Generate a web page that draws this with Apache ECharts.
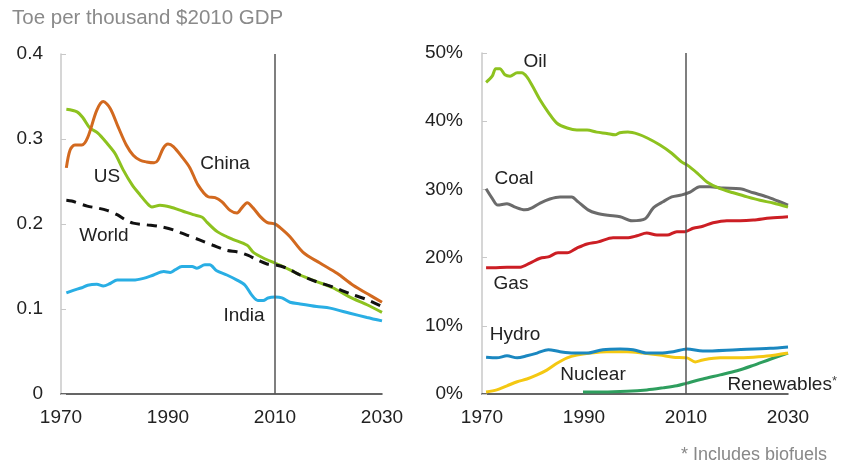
<!DOCTYPE html>
<html><head><meta charset="utf-8">
<script src="https://cdn.jsdelivr.net/npm/echarts@6/dist/echarts.min.js"></script>
<style>html,body{margin:0;padding:0;background:#fff}#c{width:845px;height:464px}</style>
</head><body><div id="c"></div>
<script>
// ---------- Data ----------
const xTicks = [1970, 1990, 2010, 2030];
const leftYTicks = [0, 0.1, 0.2, 0.3, 0.4];
const rightYTicks = [0, 10, 20, 30, 40, 50];

const chinaYears = [1971,1971.7,1972.6,1973.9,1975,1976.7,1977.9,1979.2,1980.7,1982.2,1983.5,1984.8,1986,1987.4,1988.1,1989.1,1990,1991,1992.6,1994.1,1995.6,1997.5,1998.8,2000.1,2001.6,2002.9,2003.8,2004.8,2005.9,2007.2,2008.5,2010,2010.9,2012.8,2015.2,2018.4,2021.6,2024.6,2027.8,2030];
const chinaVals  = [0.266,0.287,0.293,0.293,0.302,0.334,0.344,0.336,0.314,0.293,0.281,0.275,0.273,0.272,0.275,0.289,0.294,0.291,0.279,0.266,0.246,0.232,0.231,0.226,0.216,0.213,0.219,0.225,0.219,0.209,0.202,0.200,0.196,0.185,0.167,0.154,0.142,0.128,0.116,0.108];

const usYears = [1971,1973,1974.1,1975.4,1976.9,1978.6,1980.1,1981.6,1983.3,1984.8,1986,1987,1988.5,1990.4,1992.8,1994.7,1996.4,1997.3,1999.2,2001,2002.1,2004.8,2005.9,2007.8,2010,2011.5,2014.7,2017.9,2020.8,2024,2027.2,2030];
const usVals  = [0.335,0.332,0.325,0.313,0.307,0.295,0.283,0.264,0.246,0.234,0.225,0.220,0.222,0.220,0.215,0.211,0.208,0.202,0.191,0.185,0.182,0.175,0.167,0.160,0.154,0.150,0.140,0.132,0.125,0.114,0.105,0.096];

const worldYears = [1971,1972,1974.9,1976.7,1978.6,1980.5,1982,1983.5,1986,1988.5,1991,1993.5,1996,1998.4,2001,2003.1,2005,2006.6,2008.5,2010,2012.2,2014.7,2017.8,2020.8,2024,2027.2,2030];
const worldVals  = [0.228,0.227,0.221,0.219,0.216,0.211,0.205,0.201,0.199,0.197,0.193,0.187,0.181,0.175,0.169,0.167,0.163,0.158,0.153,0.152,0.148,0.140,0.132,0.126,0.118,0.111,0.103];

const indiaYears = [1971,1972.3,1973.9,1975,1976.7,1977.9,1979.2,1980.5,1982.3,1983.5,1985.4,1987.3,1989.2,1990.4,1991.3,1992.6,1994.5,1995.4,1996.9,1997.8,1999.1,2001,2002.9,2004.4,2005.7,2006.8,2007.8,2008.7,2010,2011.3,2012.8,2014.7,2017.8,2020.3,2024,2027.2,2030];
const indiaVals  = [0.119,0.122,0.125,0.128,0.129,0.127,0.130,0.134,0.134,0.134,0.136,0.140,0.144,0.143,0.146,0.150,0.150,0.148,0.152,0.152,0.145,0.140,0.134,0.128,0.116,0.110,0.110,0.113,0.114,0.113,0.108,0.106,0.103,0.101,0.095,0.090,0.086];

const oilYears = [1970.8,1972,1972.7,1973.5,1974.5,1975.5,1976.9,1977.8,1978.8,1980,1981.4,1983,1984.7,1986.7,1988.6,1990.6,1992.5,1994.5,1996.1,1997,1998.6,2000.6,2002.5,2004.9,2007.2,2009.2,2010.2,2012.2,2014.1,2016.7,2019.3,2022,2024.5,2027.1,2030];
const oilVals  = [45.7,46.6,47.7,47.7,46.8,46.6,47.1,47.1,46.5,45.0,43.1,41.3,39.7,39.0,38.7,38.7,38.4,38.2,38.0,38.3,38.4,38.1,37.5,36.5,35.3,34.0,33.6,32.4,31.1,30.1,29.5,28.9,28.4,28.0,27.4];

const coalYears = [1970.8,1972,1973.1,1974.9,1976.5,1978.4,1979.8,1981.4,1983.3,1985.3,1987.6,1988.8,1990.8,1992.5,1994.7,1997.1,1999.4,2002,2003.6,2005.5,2007.2,2009.2,2010.8,2012.7,2014.7,2017.3,2020.6,2023.2,2025.9,2028,2030];
const coalVals  = [30.1,28.7,27.7,27.9,27.4,27.0,27.3,28.0,28.6,28.9,28.9,28.2,27.0,26.5,26.2,26.0,25.4,25.7,27.3,28.2,28.9,29.2,29.6,30.4,30.4,30.2,30.1,29.5,28.9,28.3,27.7];

const gasYears = [1970.8,1972.2,1974.9,1977.5,1979.4,1981.4,1983,1984.9,1986.7,1988.6,1990.6,1992.8,1995.7,1998.4,2000.4,2002.3,2004.3,2006.3,2008.2,2009.8,2011.4,2013.3,2015.3,2018,2020.6,2023.2,2026.5,2030];
const gasVals  = [18.5,18.5,18.6,18.6,19.2,19.9,20.1,20.7,20.7,21.4,22.0,22.3,22.9,22.9,23.2,23.6,23.3,23.3,23.8,23.8,24.3,24.6,25.1,25.4,25.4,25.5,25.8,26.0];

const hydroYears = [1970.8,1972.9,1974.9,1976.9,1978.8,1980.8,1983,1985.3,1987.9,1990.6,1993.7,1997.1,1999.6,2002.4,2004.9,2007.5,2010.2,2013.3,2020,2026.5,2030];
const hydroVals  = [5.4,5.3,5.6,5.3,5.6,6.0,6.5,6.2,6.0,6.0,6.5,6.6,6.5,6.0,6.0,6.2,6.6,6.3,6.5,6.7,6.9];

const nuclearYears = [1970.8,1972.9,1974.9,1976.9,1978.8,1980.8,1982.7,1984.7,1986.7,1988.6,1991.2,1994.5,1998.4,2001.6,2004.9,2007.5,2010.2,2011.8,2013.3,2016.7,2020,2023.2,2026.5,2030];
const nuclearVals  = [0.3,0.6,1.2,1.8,2.2,2.8,3.5,4.5,5.3,5.7,6.0,6.2,6.2,6.0,5.7,5.4,5.3,4.7,5.0,5.3,5.3,5.4,5.6,6.0];

const renewYears = [1989.8,1993.7,1998.4,2002.3,2005.5,2008.2,2010.2,2013.3,2016.7,2020,2023.2,2026.5,2030];
const renewVals  = [0.3,0.3,0.4,0.6,0.9,1.2,1.6,2.2,2.8,3.4,4.2,5.1,6.0];

// ---------- Chart ----------
const zip = (xs, ys) => xs.map((x, i) => [x, ys[i]]);
const FONT = 'Liberation Sans, Arial, sans-serif';
const chart = echarts.init(document.getElementById('c'), null, {renderer: 'canvas'});

function line(name, xi, yi, xs, ys, color, extra) {
  return Object.assign({
    name, type: 'line', xAxisIndex: xi, yAxisIndex: yi,
    data: zip(xs, ys), showSymbol: false, smooth: 0.3,
    lineStyle: {color, width: 3}, z: 3, silent: true
  }, extra || {});
}

function xAxis(gi) {
  return {
    type: 'value', gridIndex: gi, min: xTicks[0], max: xTicks[xTicks.length - 1], interval: 20,
    axisLine: {show: true, lineStyle: {color: '#333', width: 1.5}},
    axisTick: {show: false}, splitLine: {show: false},
    axisLabel: {color: '#222', fontSize: 19, fontFamily: FONT, margin: 14, formatter: v => String(v)}
  };
}

const vline = {
  silent: true, symbol: 'none', label: {show: false},
  lineStyle: {color: '#555', width: 1.5, type: 'solid'},
  data: [{xAxis: 2010}]
};

chart.setOption({
  animation: false,
  backgroundColor: '#fff',
  grid: [
    {left: 61, top: 54, width: 321, height: 340},
    {left: 482, top: 53, width: 306, height: 341}
  ],
  xAxis: [xAxis(0), xAxis(1)],
  yAxis: [
    {type: 'value', gridIndex: 0, min: leftYTicks[0], max: leftYTicks[leftYTicks.length - 1], interval: 0.1,
     axisLine: {show: true, lineStyle: {color: '#c8c8c8', width: 1.5}},
     axisTick: {show: true, inside: true, length: 5, lineStyle: {color: '#c8c8c8'}},
     splitLine: {show: false},
     axisLabel: {color: '#222', fontSize: 19, fontFamily: FONT, margin: 18,
                 formatter: v => v === 0 ? '0' : v.toFixed(1)}},
    {type: 'value', gridIndex: 1, min: rightYTicks[0], max: rightYTicks[rightYTicks.length - 1], interval: 10,
     axisLine: {show: true, lineStyle: {color: '#c8c8c8', width: 1.5}},
     axisTick: {show: true, inside: true, length: 5, lineStyle: {color: '#c8c8c8'}},
     splitLine: {show: false},
     axisLabel: {color: '#222', fontSize: 19, fontFamily: FONT, margin: 19, formatter: v => v + '%'}}
  ],
  series: [
    line('India', 0, 0, indiaYears, indiaVals, '#29aee4'),
    line('US', 0, 0, usYears, usVals, '#8dc21f'),
    line('World', 0, 0, worldYears, worldVals, '#111', {lineStyle: {color: '#111', width: 3, type: [10, 7]}}),
    line('China', 0, 0, chinaYears, chinaVals, '#d2691f', {markLine: vline}),
    line('Renewables', 1, 1, renewYears, renewVals, '#2e9e5e'),
    line('Nuclear', 1, 1, nuclearYears, nuclearVals, '#f4c812'),
    line('Hydro', 1, 1, hydroYears, hydroVals, '#1a87c0'),
    line('Gas', 1, 1, gasYears, gasVals, '#cc1e24'),
    line('Coal', 1, 1, coalYears, coalVals, '#6b6b6b'),
    line('Oil', 1, 1, oilYears, oilVals, '#8dc21f', {markLine: vline})
  ],
  graphic: [
    {type: 'text', left: 12, top: 8, style: {text: 'Toe per thousand $2010 GDP', fill: '#8a8a8a', font: '20.5px ' + FONT}},
    {type: 'text', x: 225, y: 164, style: {text: 'China', fill: '#222', font: '19px ' + FONT, align: 'center', verticalAlign: 'middle'}},
    {type: 'text', x: 107, y: 177, style: {text: 'US', fill: '#222', font: '19px ' + FONT, align: 'center', verticalAlign: 'middle'}},
    {type: 'text', x: 104, y: 236, style: {text: 'World', fill: '#222', font: '19px ' + FONT, align: 'center', verticalAlign: 'middle'}},
    {type: 'text', x: 244, y: 316, style: {text: 'India', fill: '#222', font: '19px ' + FONT, align: 'center', verticalAlign: 'middle'}},
    {type: 'text', x: 535, y: 62, style: {text: 'Oil', fill: '#222', font: '19px ' + FONT, align: 'center', verticalAlign: 'middle'}},
    {type: 'text', x: 514, y: 179, style: {text: 'Coal', fill: '#222', font: '19px ' + FONT, align: 'center', verticalAlign: 'middle'}},
    {type: 'text', x: 511, y: 284, style: {text: 'Gas', fill: '#222', font: '19px ' + FONT, align: 'center', verticalAlign: 'middle'}},
    {type: 'text', x: 515, y: 335, style: {text: 'Hydro', fill: '#222', font: '19px ' + FONT, align: 'center', verticalAlign: 'middle'}},
    {type: 'text', x: 593, y: 375, style: {text: 'Nuclear', fill: '#222', font: '19px ' + FONT, align: 'center', verticalAlign: 'middle'}},
    {type: 'text', x: 837, y: 385, style: {
      text: '{a|Renewables}{b|*}', align: 'right', verticalAlign: 'middle',
      rich: {a: {fill: '#222', fontSize: 19, fontFamily: FONT}, b: {fill: '#444', fontSize: 13, fontFamily: FONT, verticalAlign: 'top', padding: [0, 0, 8, 0]}}
    }},
    {type: 'text', x: 827, y: 455, style: {text: '* Includes biofuels', fill: '#888', font: '18px ' + FONT, align: 'right', verticalAlign: 'middle'}}
  ]
});
</script></body></html>
